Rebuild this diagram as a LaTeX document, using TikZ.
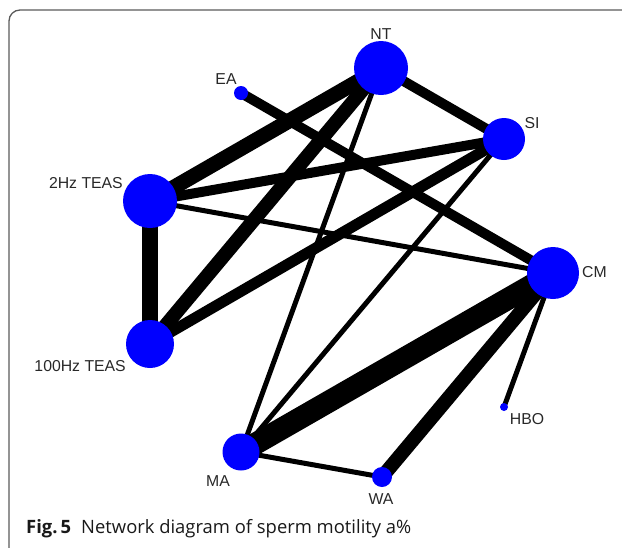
\documentclass[tikz,border=0pt]{standalone}
\usepackage{fontspec}
\setmainfont{Liberation Sans}
\newfontfamily\capfont{Open Sans}
\definecolor{nodeblue}{RGB}{0,0,255}
\definecolor{framegray}{RGB}{90,90,90}
\definecolor{labelgray}{RGB}{40,40,40}
\begin{document}
\begin{tikzpicture}[x=1pt,y=-1pt,
  vert/.style={circle,fill=nodeblue,draw=none,inner sep=0pt,minimum size=#1},
  lab/.style={font=\fontsize{15.8}{18}\selectfont,text=labelgray,inner sep=0pt},
  edge/.style={draw=black,line width=#1,line cap=butt}]
\useasboundingbox (0,0) rectangle (622,547);
\begin{scope}
\clip (0,0) rectangle (622,547);
\draw[framegray,line width=1.3pt,rounded corners=11pt] (9,10) rectangle (660,560);
\end{scope}
% node centres
\coordinate (NT) at (381,68);
\coordinate (SI) at (504,139);
\coordinate (EA) at (241,93);
\coordinate (T2) at (150,201);
\coordinate (T100) at (150,344);
\coordinate (CM) at (553,273);
\coordinate (MA) at (241,452);
\coordinate (WA) at (382,477);
\coordinate (HBO) at (504,407);
% edges
\draw[edge=15pt] (NT) -- (T2);
\draw[edge=14pt] (NT) -- (T100);
\draw[edge=10pt] (NT) -- (SI);
\draw[edge=5pt] (NT) -- (MA);
\draw[edge=10pt] (EA) -- (CM);
\draw[edge=10pt] (T2) -- (SI);
\draw[edge=5pt] (T2) -- (CM);
\draw[edge=16pt] (T2) -- (T100);
\draw[edge=11pt] (T100) -- (SI);
\draw[edge=5pt] (SI) -- (MA);
\draw[edge=22pt] (CM) -- (MA);
\draw[edge=14pt] (CM) -- (WA);
\draw[edge=5pt] (CM) -- (HBO);
\draw[edge=5pt] (MA) -- (WA);
% vertices
\node[vert=54pt] (nNT) at (NT) {};
\node[vert=42pt] (nSI) at (SI) {};
\node[vert=14pt] (nEA) at (EA) {};
\node[vert=54pt] (nT2) at (T2) {};
\node[vert=48pt] (nT100) at (T100) {};
\node[vert=52pt] (nCM) at (CM) {};
\node[vert=37pt] (nMA) at (MA) {};
\node[vert=20pt] (nWA) at (WA) {};
\node[vert=8pt] (nHBO) at (HBO) {};
% labels
\node[lab] (lNT) at (381,34) {NT};
\node[lab] (lEA) at (226,79) {EA};
\node[lab] (lSI) at (532,123) {SI};
\node[lab,anchor=east] (lT2) at (123,183) {2Hz TEAS};
\node[lab,anchor=east] (lT100) at (126,366) {100Hz TEAS};
\node[lab,anchor=west] (lCM) at (582,272) {CM};
\node[lab] (lHBO) at (527,419) {HBO};
\node[lab] (lWA) at (381,499) {WA};
\node[lab] (lMA) at (218,481) {MA};
% caption
\node[anchor=base west,inner sep=0pt,font=\capfont\fontsize{18.4}{21}\selectfont,text=black!90] (cap) at (26,533)
  {\textbf{Fig.\,5}\hspace{0.55em}Network diagram of sperm motility a\%};
\end{tikzpicture}
\end{document}
